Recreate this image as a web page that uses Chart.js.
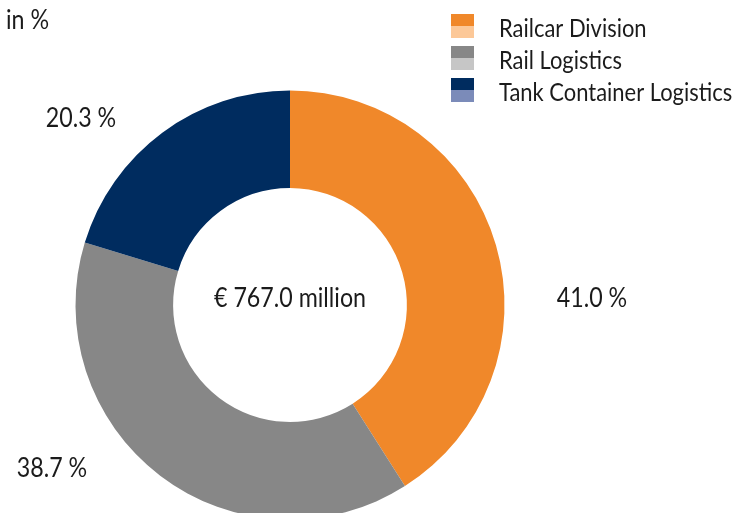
<!DOCTYPE html>
<html>
<head>
<meta charset="utf-8">
<script src="https://cdn.jsdelivr.net/npm/chart.js@4/dist/chart.umd.min.js"></script>
<style>
  html, body { margin: 0; padding: 0; background: #fff; overflow: hidden; }
  #wrap { width: 751px; height: 610px; }
</style>
</head>
<body>
<div id="wrap"><canvas id="revenueChart" width="751" height="610"></canvas></div>
<script>
const segments = ['Railcar Division', 'Rail Logistics', 'Tank Container Logistics'];
const shares = [41.0, 38.7, 20.3];
const totalLabel = '€ 767.0 million';
const unitLabel = 'in %';

const darkColors = ['#f0882a', '#878787', '#002c5f'];
const lightColors = ['#fcc898', '#c6c6c6', '#7b8bb9'];

const FONT = 'Lato, "Open Sans", sans-serif';
const TEXT = '#1b1b1b';

// where each percentage label sits, one per segment
const labelSpots = [
  { x: 592, y: 307 },
  { x: 52, y: 477 },
  { x: 81, y: 127 }
];

// horizontally condensed text, the house font is narrow
function narrowText(ctx, str, x, y, size, align) {
  ctx.save();
  ctx.font = size + 'px ' + FONT;
  ctx.fillStyle = TEXT;
  ctx.textBaseline = 'alphabetic';
  ctx.textAlign = 'left';
  const squeeze = 0.86;
  const w = ctx.measureText(str).width * squeeze;
  let sx = x;
  if (align === 'center') sx = x - w / 2;
  if (align === 'right') sx = x - w;
  ctx.translate(sx, y);
  ctx.scale(squeeze, 1);
  ctx.fillText(str, 0, 0);
  ctx.restore();
}

const decorations = {
  id: 'decorations',
  afterDatasetsDraw(chart) {
    const ctx = chart.ctx;
    const arc = chart.getDatasetMeta(0).data[0];

    // total in the hole
    narrowText(ctx, totalLabel, arc.x, 307, 27, 'center');

    // value labels
    shares.forEach((v, i) => {
      narrowText(ctx, v.toFixed(1) + ' %', labelSpots[i].x, labelSpots[i].y, 27, 'center');
    });

    narrowText(ctx, unitLabel, 6, 29, 27, 'left');

    // legend with two-tone swatches
    segments.forEach((name, i) => {
      const top = 14 + i * 32;
      ctx.fillStyle = darkColors[i];
      ctx.fillRect(451, top, 23, 12);
      ctx.fillStyle = lightColors[i];
      ctx.fillRect(451, top + 12, 23, 12);
      narrowText(ctx, name, 499, top + 23, 25.5, 'left');
    });
  }
};

const chart = new Chart(document.getElementById('revenueChart'), {
  type: 'doughnut',
  data: {
    labels: segments,
    datasets: [{
      data: shares,
      backgroundColor: darkColors,
      borderWidth: 0,
      radius: 214.5,
      cutout: '54.5%'
    }]
  },
  options: {
    responsive: false,
    animation: false,
    layout: { padding: { left: 0, right: 171, top: 0, bottom: 0 } },
    plugins: {
      legend: { display: false },
      tooltip: { enabled: false }
    }
  },
  plugins: [decorations]
});
</script>
</body>
</html>
